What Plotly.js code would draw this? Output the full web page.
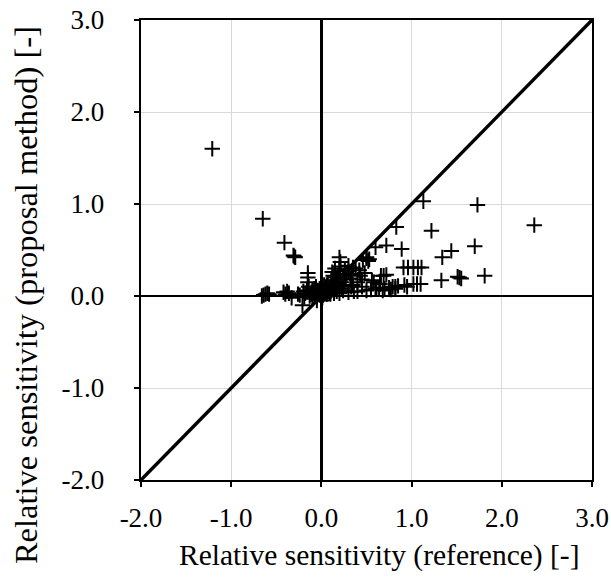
<!DOCTYPE html>
<html>
<head>
<meta charset="utf-8">
<script src="https://cdn.plot.ly/plotly-3.0.1.min.js"></script>
<style>
html,body{margin:0;padding:0;background:#fff;}
#chart{width:611px;height:579px;}
</style>
</head>
<body>
<div id="chart"></div>
<script>
// Relative sensitivity: reference (x) vs proposal method (y)
const refX = [
  -1.21, -0.65, -0.41, -0.31, -0.29, -0.30,
  1.13, 1.73, 2.36, 1.22, 0.83, 0.72, 0.89, 0.60, 0.50, 0.46, 0.53,
  1.70, 1.44, 1.34,
  0.91, 0.96, 1.02, 1.07, 1.11,
  1.33, 1.53, 1.55, 1.51, 1.81,
  1.02, 1.06, 1.10, 0.95, 0.82, 0.77,
  0.69, 0.66, 0.72, 0.61, 0.56,
  -0.62, -0.64, -0.60, -0.66, -0.58, -0.42, -0.40, -0.36, -0.33, -0.38,
  -0.15, -0.15, -0.15, -0.14, -0.16, -0.20, -0.19, -0.21, -0.10, -0.05, 0.00, -0.12, -0.08,
  0.20, 0.21, 0.21, 0.20, 0.19, 0.12, 0.13, 0.11, 0.30, 0.34, 0.32,
  0.40, 0.43, 0.50, 0.52, 0.38, 0.45,
  0.10, 0.20, 0.30, 0.40, 0.50, 0.55, 0.60, 0.70, 0.75, 0.82, 0.85, 0.92,
  0.05, 0.10, 0.15, 0.25, 0.30, 0.35, 0.08, 0.18, 0.28,
  -0.05, -0.03, 0.02, 0.04, 0.06, 0.08, 0.03, 0.00, -0.02, 0.01, 0.07, 0.12, 0.15, 0.18, 0.22, 0.25,
  -0.10, -0.07, 0.05, 0.10, 0.14, 0.16, 0.24, 0.27, 0.33, 0.36, 0.42, 0.48, 0.58, 0.64, 0.68, 0.79,
  -0.09, -0.06, -0.04, -0.02, 0.02, 0.04, 0.06, 0.09, 0.11, 0.13, -0.13, -0.11, 0.03, 0.07, 0.17, 0.23,
  -0.18, -0.24, -0.26, 0.15, 0.26, 0.35, 0.45, 0.65
];
const propY = [
  1.60, 0.84, 0.58, 0.44, 0.42, 0.43,
  1.03, 0.99, 0.77, 0.71, 0.75, 0.55, 0.51, 0.53, 0.41, 0.39, 0.40,
  0.54, 0.49, 0.42,
  0.31, 0.31, 0.31, 0.31, 0.31,
  0.17, 0.20, 0.19, 0.21, 0.22,
  0.13, 0.13, 0.13, 0.10, 0.08, 0.07,
  0.22, 0.22, 0.23, 0.08, 0.17,
  0.02, 0.01, 0.03, 0.00, 0.02, 0.04, 0.02, 0.03, -0.02, 0.05,
  0.25, 0.20, 0.15, 0.10, 0.06, 0.05, -0.01, -0.10, 0.06, -0.05, -0.05, 0.02, 0.08,
  0.42, 0.37, 0.32, 0.28, 0.24, 0.26, 0.22, 0.17, 0.33, 0.24, 0.19,
  0.15, 0.22, 0.42, 0.38, 0.30, 0.18,
  0.02, 0.03, 0.04, 0.05, 0.06, 0.07, 0.08, 0.08, 0.09, 0.10, 0.11, 0.12,
  0.05, 0.10, 0.14, 0.22, 0.27, 0.31, 0.06, 0.16, 0.24,
  0.00, 0.03, 0.01, 0.04, 0.02, 0.05, 0.06, 0.02, 0.01, -0.02, 0.09, 0.07, 0.12, 0.10, 0.15, 0.12,
  -0.03, 0.00, 0.08, 0.05, 0.03, 0.20, 0.06, 0.18, 0.10, 0.05, 0.28, 0.25, 0.15, 0.09, 0.06, 0.10,
  0.03, 0.10, 0.06, 0.08, 0.04, 0.09, 0.12, 0.03, 0.06, 0.15, 0.00, 0.04, 0.12, 0.14, 0.05, 0.08,
  0.03, 0.01, 0.02, 0.30, 0.29, 0.12, 0.10, 0.13
];
const lineX = [-2, 3];
const lineY = [-2, 3];
const tickVals = [-2, -1, 0, 1, 2, 3];
const tickText = ["-2.0", "-1.0", "0.0", "1.0", "2.0", "3.0"];
const xTitle = "Relative sensitivity (reference) [-]";
const yTitle = "Relative sensitivity (proposal method) [-]";

const serif = "Liberation Serif, Times New Roman, serif";
const data = [
  {x: lineX, y: lineY, mode: "lines", type: "scatter", line: {color: "#000", width: 3.4}, hoverinfo: "skip"},
  {x: refX, y: propY, mode: "markers", type: "scatter",
   marker: {symbol: "cross-thin-open", size: 11, line: {color: "#000", width: 2}, color: "#000"}}
];
function axis(extra) {
  return Object.assign({
    range: [-2, 3],
    tickmode: "array", tickvals: tickVals.slice(), ticktext: tickText.slice(),
    showgrid: true, gridcolor: "#d9d9d9", gridwidth: 1,
    zeroline: true, zerolinecolor: "#000", zerolinewidth: 2.8,
    showline: true, linecolor: "#000", linewidth: 2.4, mirror: true,
    ticks: "outside", ticklen: 5, tickwidth: 2, tickcolor: "#000",
    tickfont: {family: serif, size: 27, color: "#000"}
  }, extra);
}
const layout = {
  width: 611, height: 579,
  margin: {l: 141, r: 19, t: 20, b: 99},
  paper_bgcolor: "#fff", plot_bgcolor: "#fff",
  showlegend: false,
  xaxis: axis({ticklabelstandoff: 7}),
  yaxis: axis({ticklabelstandoff: 24}),
  annotations: [
    {text: xTitle, xref: "paper", yref: "paper", x: 0.528, y: -0.165,
     xanchor: "center", yanchor: "middle", showarrow: false,
     font: {family: serif, size: 29.5, color: "#000"}},
    {text: yTitle, xref: "paper", yref: "paper", x: -0.255, y: 0.402,
     xanchor: "center", yanchor: "middle", showarrow: false, textangle: -90,
     font: {family: serif, size: 32.5, color: "#000"}}
  ]
};
Plotly.newPlot("chart", data, layout, {displayModeBar: false, staticPlot: true});
</script>
</body>
</html>
